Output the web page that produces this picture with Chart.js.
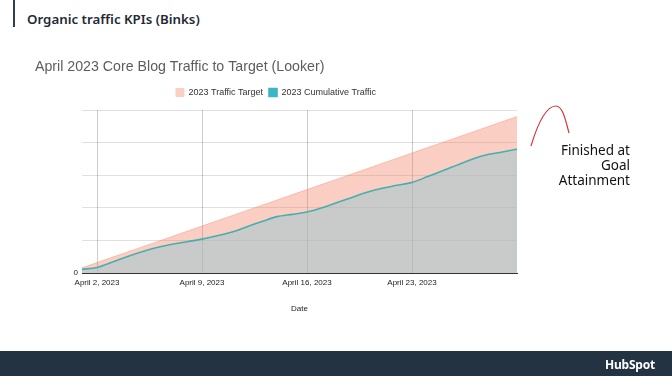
<!DOCTYPE html>
<html>
<head>
<meta charset="utf-8">
<script src="https://cdn.jsdelivr.net/npm/chart.js@4"></script>
<style>
  html, body { margin: 0; padding: 0; background: #fff; }
  body { width: 672px; height: 376px; position: relative; overflow: hidden; font-family: "Noto Sans", sans-serif; }
  #bar { position: absolute; left: 13px; top: 0; width: 2px; height: 27px; background: #2d3e50; }
  #slideTitle { position: absolute; left: 27px; top: 10px; font-size: 13.3px; font-weight: 600; color: #1f2933; }
  #wrap { position: absolute; left: 30px; top: 53px; width: 492px; height: 265px; }
  #note { position: absolute; right: 42px; top: 143px; font-size: 13.5px; line-height: 15px; text-align: right; color: #111; }
  #curve { position: absolute; left: 0; top: 0; }
  #footer { position: absolute; left: 0; top: 351px; width: 672px; height: 25px; background: #243342; }
  #logo { position: absolute; right: 17px; top: 5px; color: #fff; font-weight: 700; font-size: 12px; letter-spacing: -0.2px; }
</style>
</head>
<body>
<div id="bar"></div>
<div id="slideTitle">Organic traffic KPIs (Binks)</div>
<div id="wrap"><canvas id="myChart"></canvas></div>
<svg id="curve" width="672" height="376"><path d="M531 146 C 537 126, 546 106, 556 106 C 563 106, 566 122, 569 133" fill="none" stroke="#d23a3a" stroke-width="1.2"/></svg>
<div id="note">Finished at<br>Goal<br>Attainment</div>
<div id="footer"><div id="logo">HubSpot</div></div>
<script>
const days = [
  'April 1, 2023', 'April 2, 2023', 'April 3, 2023', 'April 4, 2023', 'April 5, 2023',
  'April 6, 2023', 'April 7, 2023', 'April 8, 2023', 'April 9, 2023', 'April 10, 2023',
  'April 11, 2023', 'April 12, 2023', 'April 13, 2023', 'April 14, 2023', 'April 15, 2023',
  'April 16, 2023', 'April 17, 2023', 'April 18, 2023', 'April 19, 2023', 'April 20, 2023',
  'April 21, 2023', 'April 22, 2023', 'April 23, 2023', 'April 24, 2023', 'April 25, 2023',
  'April 26, 2023', 'April 27, 2023', 'April 28, 2023', 'April 29, 2023', 'April 30, 2023'
];
const target = [
  8000, 16000, 24000, 32000, 40000, 48000, 56000, 64000, 72000, 80000,
  88000, 96000, 104000, 112000, 120000, 128000, 136000, 144000, 152000, 160000,
  168000, 176000, 184000, 192000, 200000, 208000, 216000, 224000, 232000, 240000
];
const cumulative = [
  5500, 8500, 16500, 25000, 32500, 39000, 44000, 48000, 52000, 57000,
  63000, 71000, 79000, 86500, 90000, 93500, 100000, 108000, 116000, 124000,
  130000, 134500, 139000, 147500, 156500, 165500, 174500, 181500, 185500, 190000
];
const shownTicks = ['April 2, 2023', 'April 9, 2023', 'April 16, 2023', 'April 23, 2023'];
const yTicks = [0];

// extra room between the legend and the plot
const legendGap = {
  id: 'legendGap',
  beforeInit(chart) {
    const fit = chart.legend.fit;
    chart.legend.fit = function () {
      fit.bind(chart.legend)();
      this.height += 3;
    };
  }
};

const ctx = document.getElementById('myChart').getContext('2d');
const chart = new Chart(ctx, {
  type: 'line',
  data: {
    labels: days,
    datasets: [
      {
        label: '2023 Cumulative Traffic',
        data: cumulative,
        borderColor: '#47aeb0',
        backgroundColor: 'rgba(149,202,208,0.5)',
        borderWidth: 1.6,
        fill: 'origin',
        pointRadius: 0,
        tension: 0.3,
        order: 1
      },
      {
        label: '2023 Traffic Target',
        data: target,
        borderColor: 'rgba(244,120,90,0.36)',
        backgroundColor: 'rgba(244,120,90,0.36)',
        borderWidth: 1,
        fill: 'origin',
        pointRadius: 0,
        order: 2
      }
    ]
  },
  plugins: [legendGap],
  options: {
    responsive: true,
    maintainAspectRatio: false,
    animation: false,
    layout: { padding: { left: 5, right: 5, top: 0, bottom: 0 } },
    plugins: {
      title: {
        display: true,
        text: 'April 2023 Core Blog Traffic to Target (Looker)',
        align: 'start',
        color: '#5d5d5d',
        font: { family: 'Liberation Sans', size: 14.2, weight: 'normal' },
        padding: { top: 6, bottom: 6 }
      },
      legend: {
        reverse: true,
        labels: {
          boxWidth: 8,
          boxHeight: 8,
          padding: 6,
          color: '#333',
          font: { family: 'Liberation Sans', size: 9 },
          generateLabels: (c) => {
            const items = Chart.defaults.plugins.legend.labels.generateLabels(c);
            items.forEach((it) => {
              it.fillStyle = it.datasetIndex === 0 ? '#3db6c4' : '#fbd0c4';
              it.strokeStyle = it.fillStyle;
            });
            return items;
          }
        }
      },
      tooltip: { enabled: false }
    },
    scales: {
      x: {
        grid: {
          drawTicks: false,
          color: (c) => (shownTicks.includes(days[c.index]) ? 'rgba(0,0,0,0.2)' : 'rgba(0,0,0,0)')
        },
        border: { color: '#333', width: 1 },
        ticks: {
          autoSkip: false,
          maxRotation: 0,
          padding: 5,
          color: '#222',
          font: { family: 'Liberation Sans', size: 8 },
          callback: (v, i) => (shownTicks.includes(days[i]) ? days[i] : '')
        },
        title: {
          display: true,
          text: 'Date',
          color: '#222',
          font: { family: 'Liberation Sans', size: 8 },
          padding: { top: 12, bottom: 4 }
        },
        afterFit: (s) => { s.height = 45; }
      },
      y: {
        min: 0,
        max: 250000,
        grid: { drawTicks: false, color: 'rgba(0,0,0,0.12)' },
        border: { display: false },
        ticks: {
          stepSize: 50000,
          padding: 4,
          color: '#222',
          font: { family: 'Liberation Sans', size: 8 },
          callback: (v) => (yTicks.includes(v) ? String(v) : '')
        },
        afterFit: (s) => { s.width = 47; }
      }
    }
  }
});
</script>
</body>
</html>
